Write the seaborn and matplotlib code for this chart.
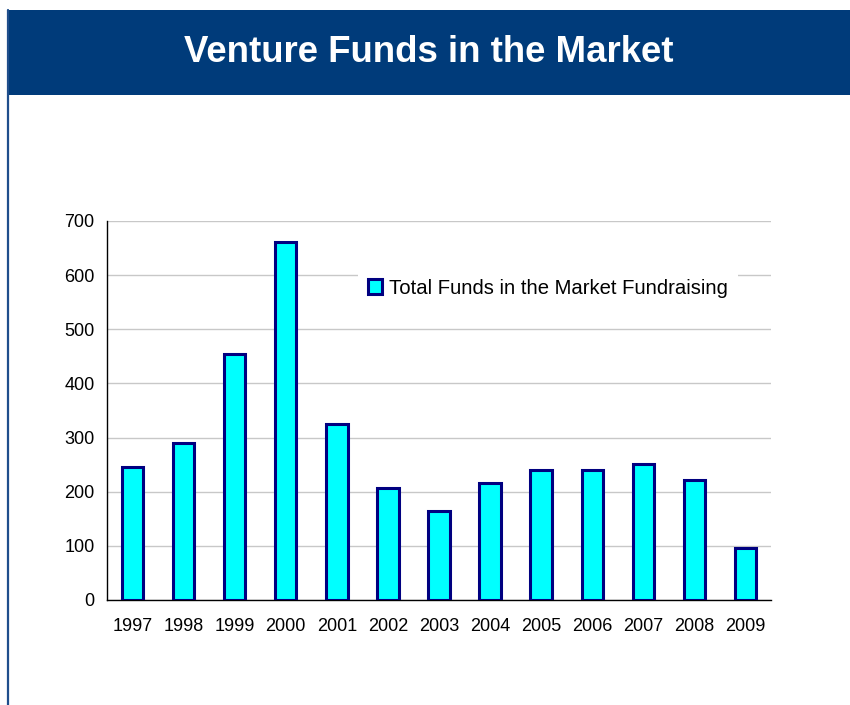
import matplotlib
matplotlib.use("Agg")
import matplotlib.pyplot as plt
import seaborn as sns
import pandas as pd
from matplotlib.patches import Rectangle
from matplotlib.lines import Line2D

years = ["1997", "1998", "1999", "2000", "2001", "2002", "2003",
         "2004", "2005", "2006", "2007", "2008", "2009"]
funds = [246, 290, 455, 661, 325, 207, 165, 217, 240, 240, 251, 222, 96]
series_label = "Total Funds in the Market Fundraising"
title = "Venture Funds in the Market"

df = pd.DataFrame({"year": years, "funds": funds})

sns.set_style("white")
plt.rcParams["font.family"] = ["Liberation Sans", "DejaVu Sans"]
plt.rcParams["text.color"] = "black"

fig = plt.figure(figsize=(8.5, 7.05), dpi=100)
W, H = 850, 705

# title banner and left border line
fig.patches.append(Rectangle((7 / W, 1 - 95 / H), 1, 85 / H, transform=fig.transFigure,
                             facecolor="#003B7A", edgecolor="none", zorder=0))
fig.lines.append(Line2D([8 / W, 8 / W], [0, 1 - 10 / H], transform=fig.transFigure,
                        color="#1F4E8C", linewidth=1.6))
fig.text(429 / W, 1 - 53 / H, title, color="white", fontsize=26.4, fontweight="bold",
         ha="center", va="center")

ax = fig.add_axes([107 / W, 1 - 600 / H, 664 / W, 379 / H])
sns.barplot(data=df, x="year", y="funds", color="#00FFFF", edgecolor="#000080",
            linewidth=2.2, width=0.42, saturation=1, label=series_label, ax=ax, zorder=3)

ax.set_ylim(0, 700)
ax.set_xlim(-0.5, len(years) - 0.5)
ax.set_yticks(range(0, 701, 100))
ax.yaxis.grid(True, color="#c8c8c8", linewidth=1, zorder=0)
ax.set_axisbelow(True)
ax.set_xlabel("")
ax.set_ylabel("")
for s in ["top", "right"]:
    ax.spines[s].set_visible(False)
for s in ["left", "bottom"]:
    ax.spines[s].set_color("black")
    ax.spines[s].set_linewidth(1)

ax.set_xticks([i - 0.5 for i in range(len(years) + 1)], minor=True)
ax.tick_params(axis="x", which="major", length=0, pad=13, labelsize=13, labelcolor="black")
ax.tick_params(axis="x", which="minor", length=5, width=1, direction="out", color="black")
ax.tick_params(axis="y", length=5, width=1, direction="out", color="black",
               labelcolor="black", labelsize=13, pad=4)

leg = ax.legend(loc="center left", bbox_to_anchor=(0.378, 0.823), frameon=True,
                fontsize=14.6, handlelength=0.7, handleheight=0.7, handletextpad=0.35,
                borderpad=0.5, borderaxespad=0)
leg.get_frame().set_facecolor("white")
leg.get_frame().set_edgecolor("none")
leg.get_frame().set_alpha(1)

fig.savefig("out.png", dpi=100)
